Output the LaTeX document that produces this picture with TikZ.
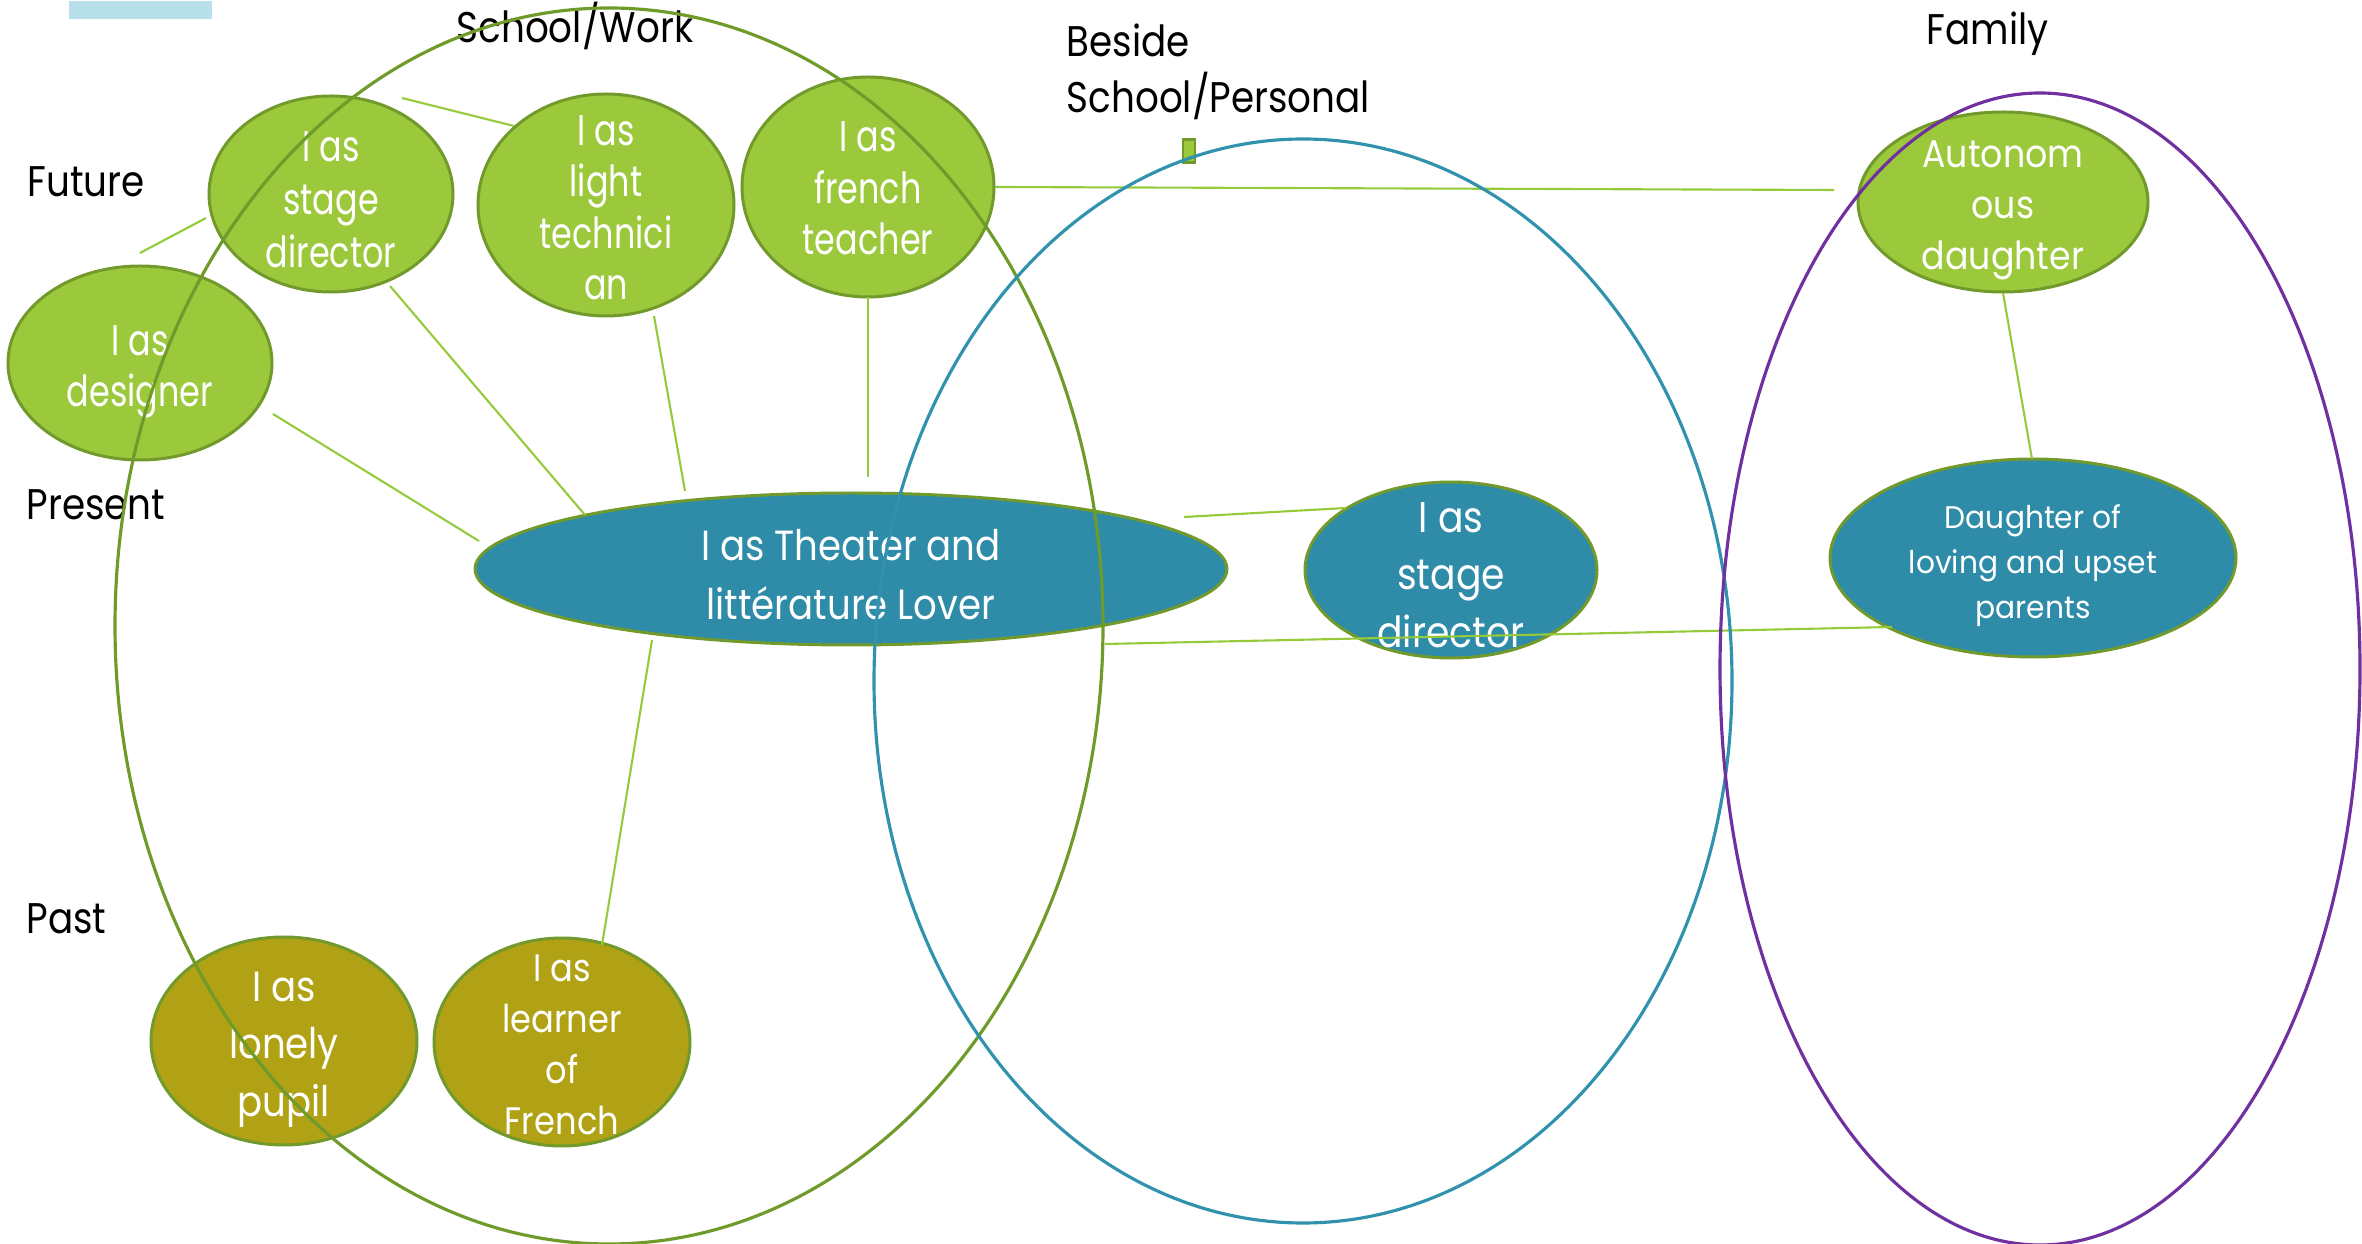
\documentclass[tikz,border=0pt]{standalone}
\usepackage{fontspec}
\usetikzlibrary{shapes.geometric}
\setmainfont{Poppins}
\newfontfamily\condfont{Poppins}[FakeStretch=0.88]
\newfontfamily\narrowfont{Poppins}[FakeStretch=0.78]
\newfontfamily\headfont{Poppins}[FakeStretch=0.87]
\newfontfamily\autofont{Poppins}[FakeStretch=0.9]
\newfontfamily\daufont{Poppins}[FakeStretch=0.95]
\definecolor{leafgreen}{HTML}{9BC93B}
\definecolor{nodeborder}{HTML}{72992B}
\definecolor{tealfill}{HTML}{2E8CA8}
\definecolor{olivefill}{HTML}{B1A115}
\definecolor{linkgreen}{HTML}{95CB3A}
\definecolor{ringgreen}{HTML}{6F9B2A}
\definecolor{ringblue}{HTML}{3192AE}
\definecolor{ringpurple}{HTML}{7030A0}
\definecolor{tabblue}{HTML}{B8E0EA}
\tikzset{
  blob/.style={ellipse, draw=nodeborder, line width=0.85pt, inner sep=0pt, outer sep=0pt},
  greenblob/.style={blob, fill=leafgreen},
  tealblob/.style={blob, fill=tealfill},
  oliveblob/.style={blob, fill=olivefill},
  intext/.style={text=white, align=center, inner sep=0pt},
  link/.style={draw=linkgreen, line width=0.6pt},
  heading/.style={anchor=base west, inner sep=0pt, align=left, font=\headfont\fontsize{12.2pt}{16pt}\selectfont},
  bigring/.style={ellipse, line width=0.9pt, inner sep=0pt, outer sep=0pt, fill=none},
}
\begin{document}
\begin{tikzpicture}[x=0.1mm,y=-0.1mm]
\useasboundingbox (0,0) rectangle (2362,1244);
% top-left tab
\node[fill=tabblue, anchor=north west, inner sep=0pt, minimum width=14.3mm, minimum height=1.8mm] (tab) at (68,0) {};
% headings
\node[heading] (hschool) at (456,43) {School/Work};
\node[heading] (hbeside) at (1066,113) {Beside\\School/Personal};
\node[heading] (hfamily) at (1926,45) {Family};
\node[heading] (hfuture) at (27,197) {Future};
\node[heading] (hpresent) at (26,520) {Present};
\node[heading] (hpast) at (26,934) {Past};
% marker
\node[fill=leafgreen, draw=nodeborder, line width=0.6pt, inner sep=0pt, minimum width=1.2mm, minimum height=2.3mm] (marker) at (1189,151) {};
% blobs
\node[greenblob, minimum width=24.4mm, minimum height=19.6mm] (sdf) at (331,194) {};
\node[greenblob, minimum width=25.6mm, minimum height=22.2mm] (light) at (606,205) {};
\node[greenblob, minimum width=25.2mm, minimum height=22mm] (french) at (868,187) {};
\node[greenblob, minimum width=26.4mm, minimum height=19.4mm] (design) at (140,363) {};
\node[tealblob, minimum width=75.2mm, minimum height=15.2mm] (theater) at (851,569) {};
\node[tealblob, minimum width=29.2mm, minimum height=17.6mm] (sdp) at (1451,570) {};
\node[greenblob, minimum width=29mm, minimum height=18mm] (auto) at (2003,202) {};
\node[tealblob, minimum width=40.6mm, minimum height=19.8mm] (daughter) at (2033,558) {};
\node[oliveblob, minimum width=26.6mm, minimum height=20.8mm] (lonely) at (284,1041) {};
\node[oliveblob, minimum width=25.6mm, minimum height=20.8mm] (learner) at (562,1042) {};
% blob texts
\node[intext, font=\narrowfont\fontsize{12.2pt}{15pt}\selectfont, yshift=-1.6pt] (tsdf) at (sdf) {I as\\stage\\director};
\node[intext, font=\narrowfont\fontsize{12.2pt}{14.6pt}\selectfont, yshift=-0.8pt] (tlight) at (light) {I as\\light\\technici\\an};
\node[intext, font=\narrowfont\fontsize{12.2pt}{14.6pt}\selectfont, yshift=-0.4pt] (tfrench) at (french) {I as\\french\\teacher};
\node[intext, font=\narrowfont\fontsize{12.2pt}{14.6pt}\selectfont, yshift=-2.6pt] (tdesign) at (design) {I as\\designer};
\node[intext, font=\condfont\fontsize{12pt}{16.8pt}\selectfont, yshift=-1.7pt] (ttheater) at (theater) {I as Theater and\\littérature Lover};
\node[intext, font=\condfont\fontsize{12.2pt}{16.4pt}\selectfont, yshift=-1.4pt] (tsdp) at (sdp) {I as\\stage\\director};
\node[intext, font=\autofont\fontsize{11pt}{14.6pt}\selectfont, yshift=-2.4pt] (tauto) at (auto) {Autonom\\ous\\daughter};
\node[intext, font=\daufont\fontsize{8.9pt}{12.8pt}\selectfont, yshift=-2.2pt] (tdaughter) at (daughter) {Daughter of\\loving and upset\\parents};
\node[intext, font=\condfont\fontsize{12pt}{16.4pt}\selectfont, yshift=-2.4pt] (tlonely) at (lonely) {I as\\lonely\\pupil};
\node[intext, font=\condfont\fontsize{10.9pt}{14.6pt}\selectfont, yshift=-0.8pt] (tlearner) at (learner) {I as\\learner\\of\\French};
% connector ends
\coordinate (a1) at (140,253); \coordinate (a2) at (206,218);
\coordinate (b1) at (402,98);  \coordinate (b2) at (514,126);
\coordinate (c1) at (273,414); \coordinate (c2) at (479,541);
\coordinate (d1) at (390,286); \coordinate (d2) at (585,515);
\coordinate (e1) at (654,316); \coordinate (e2) at (685,491);
\coordinate (f1) at (868,297); \coordinate (f2) at (868,477);
\coordinate (g1) at (995,187); \coordinate (g2) at (1834,190);
\coordinate (h1) at (1184,517); \coordinate (h2) at (1346,508);
\coordinate (i1) at (1105,644); \coordinate (i2) at (1892,627);
\coordinate (j1) at (652,640); \coordinate (j2) at (602,945);
\coordinate (k1) at (2003,293); \coordinate (k2) at (2032,459);
\draw[link] (a1) -- (a2);
\draw[link] (b1) -- (b2);
\draw[link] (c1) -- (c2);
\draw[link] (d1) -- (d2);
\draw[link] (e1) -- (e2);
\draw[link] (f1) -- (f2);
\draw[link] (g1) -- (g2);
\draw[link] (h1) -- (h2);
\draw[link] (i1) -- (i2);
\draw[link] (j1) -- (j2);
\draw[link] (k1) -- (k2);
% big rings
\node[bigring, draw=ringgreen, minimum width=98.8mm, minimum height=123.6mm] (schoolring) at (609,626) {};
\node[bigring, draw=ringblue, minimum width=85.8mm, minimum height=108.4mm] (besidering) at (1303,681) {};
\node[bigring, draw=ringpurple, minimum width=64mm, minimum height=115.2mm] (familyring) at (2040,669) {};
\end{tikzpicture}
\end{document}
